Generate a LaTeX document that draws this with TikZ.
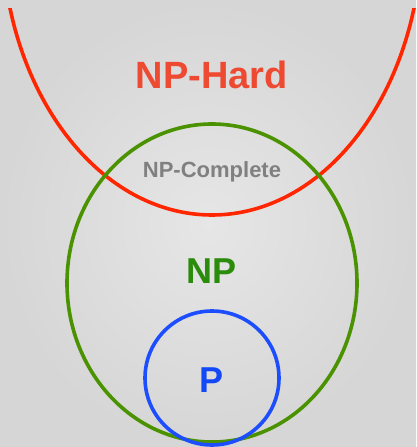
\documentclass[tikz,border=0pt]{standalone}
\usepackage{fontspec}
\setmainfont{Liberation Sans}
\usetikzlibrary{shapes.geometric}
\definecolor{bgin}{RGB}{230,230,230}
\definecolor{bgout}{RGB}{214,214,214}
\definecolor{hardline}{RGB}{255,38,0}
\definecolor{hardtext}{RGB}{238,74,50}
\definecolor{npline}{RGB}{74,146,0}
\definecolor{nptext}{RGB}{42,140,10}
\definecolor{pline}{RGB}{28,78,255}
\definecolor{ptext}{RGB}{18,72,245}
\definecolor{cmptext}{RGB}{128,128,128}
\tikzset{
  setshape/.style={ellipse, draw, line width=3.6pt, inner sep=0pt, outer sep=0pt},
  lbl/.style={anchor=base, inner sep=0pt, font=\bfseries}
}
\begin{document}
\begin{tikzpicture}[x=1pt,y=-1pt]
\useasboundingbox (0,0) rectangle (416,447);
\shade[inner color=bgin, outer color=bgout] (0,0) rectangle (416,447);
% NP-Hard curve
\begin{scope}
\clip (0,8) rectangle (416,447);
\node[setshape, draw=hardline, minimum width=420pt, minimum height=570pt] (hard) at (212,-70) {};
\end{scope}
% NP set
\node[setshape, draw=npline, minimum width=290pt, minimum height=318pt] (np) at (212,283) {};
% P set
\node[setshape, circle, draw=pline, minimum size=134pt] (p) at (212,378) {};
% labels
\node[lbl, text=hardtext, font=\bfseries\fontsize{38}{40}\selectfont] (hardlbl) at (212,88) {NP-Hard};
\node[lbl, text=cmptext, font=\bfseries\fontsize{22}{24}\selectfont] (cmplbl) at (212,177) {NP-Complete};
\node[lbl, text=nptext, font=\bfseries\fontsize{36}{38}\selectfont] (nplbl) at (212,283) {NP};
\node[lbl, text=ptext, font=\bfseries\fontsize{36}{38}\selectfont] (plbl) at (212,392) {P};
\end{tikzpicture}
\end{document}
